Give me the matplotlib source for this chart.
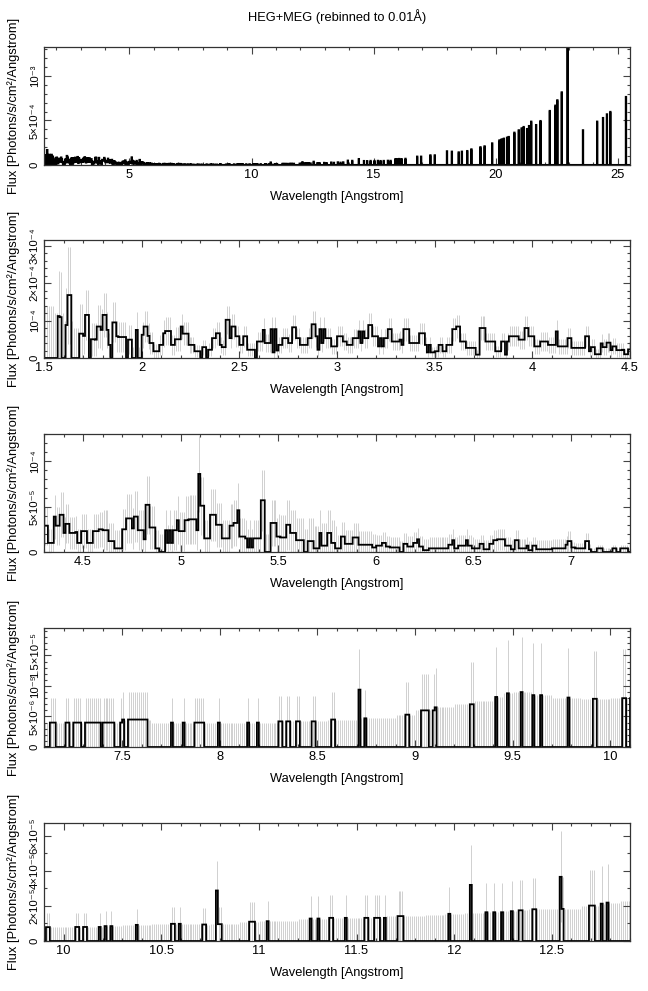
#!/usr/bin/env python3

# HEG+MEG flux spectrum, full range plus four 3 Angstrom zooms.

import numpy as np
import matplotlib
matplotlib.use("Agg")
from matplotlib import pyplot as plt
from matplotlib.ticker import MultipleLocator, FormatStrFormatter

plt.rcParams['font.family'] = ['Liberation Sans', 'DejaVu Sans']

# 1.5 - 7.1 A: start of each flat step and its flux [1e-6 ph/s/cm2/A]
dense_start = [
    1.50, 1.57, 1.58, 1.59, 1.61, 1.62, 1.64, 1.68, 1.70, 1.71, 1.73, 1.74, 1.76, 1.77,
    1.79, 1.80, 1.82, 1.83, 1.84, 1.85, 1.87, 1.88, 1.92, 1.93, 1.95, 1.97, 1.98, 2.00,
    2.01, 2.03, 2.04, 2.06, 2.09, 2.11, 2.12, 2.15, 2.17, 2.20, 2.21, 2.24, 2.27, 2.30,
    2.31, 2.33, 2.34, 2.36, 2.38, 2.40, 2.41, 2.43, 2.45, 2.46, 2.48, 2.50, 2.52, 2.54,
    2.58, 2.59, 2.62, 2.63, 2.66, 2.67, 2.68, 2.69, 2.70, 2.72, 2.75, 2.77, 2.79, 2.81,
    2.85, 2.87, 2.89, 2.90, 2.91, 2.92, 2.93, 2.94, 2.97, 3.00, 3.03, 3.05, 3.08, 3.11,
    3.12, 3.13, 3.14, 3.16, 3.18, 3.21, 3.22, 3.23, 3.24, 3.26, 3.28, 3.32, 3.33, 3.34,
    3.37, 3.42, 3.45, 3.46, 3.47, 3.48, 3.50, 3.52, 3.54, 3.56, 3.59, 3.61, 3.63, 3.66,
    3.71, 3.73, 3.76, 3.81, 3.84, 3.86, 3.87, 3.88, 3.93, 3.96, 3.98, 4.01, 4.04, 4.08,
    4.12, 4.13, 4.18, 4.20, 4.27, 4.29,
    4.30, 4.32, 4.35, 4.36, 4.38, 4.40, 4.41, 4.43, 4.46, 4.47, 4.49, 4.52, 4.55, 4.58,
    4.60, 4.63, 4.66, 4.70, 4.72, 4.75, 4.76, 4.78, 4.81, 4.82, 4.84, 4.87, 4.89, 4.92,
    4.93, 4.94, 4.95, 4.96, 4.98, 4.99, 5.02, 5.04, 5.08, 5.09, 5.10, 5.12, 5.15, 5.18,
    5.21, 5.25, 5.27, 5.29, 5.30, 5.33, 5.34, 5.35, 5.36, 5.37, 5.41, 5.43, 5.46, 5.49,
    5.51, 5.54, 5.56, 5.59, 5.63, 5.65, 5.68, 5.71, 5.72, 5.75, 5.77, 5.79, 5.82, 5.84,
    5.88, 5.91, 5.98, 6.00, 6.03, 6.05, 6.07, 6.12, 6.14, 6.16, 6.19, 6.21, 6.22, 6.24,
    6.27, 6.37, 6.39, 6.40, 6.42, 6.46, 6.47, 6.49, 6.53, 6.55, 6.58, 6.60, 6.62, 6.66,
    6.69, 6.71, 6.73, 6.77, 6.78, 6.80, 6.82, 6.90, 6.97, 6.98, 7.00, 7.02, 7.07, 7.09,
]
dense_flux = [
    0, 112, 109, 0, 88, 168, 0, 65, 59, 115, 0, 50, 49, 84,
    75, 115, 75, 35, 0, 95, 58, 56, 0, 49, 0, 75, 0, 62,
    84, 59, 40, 18, 35, 66, 72, 35, 50, 84, 65, 35, 18, 0,
    29, 0, 22, 53, 66, 35, 29, 102, 53, 84, 58, 35, 58, 22,
    0, 44, 75, 40, 77, 15, 77, 20, 35, 53, 40, 82, 53, 35,
    53, 90, 58, 22, 77, 40, 77, 53, 31, 58, 44, 35, 53, 71,
    40, 71, 53, 88, 58, 31, 53, 31, 53, 77, 44, 49, 35, 77,
    40, 66, 35, 15, 35, 15, 18, 35, 18, 35, 77, 84, 44, 27,
    9, 80, 44, 18, 44, 9, 44, 58, 49, 80, 58, 31, 44, 35,
    71, 31, 53, 27, 58, 18,
    29, 10, 39, 29, 41, 21, 31, 21, 22, 10, 23, 10, 23, 25,
    24, 12, 4, 25, 37, 26, 39, 24, 14, 52, 27, 4, 0, 24,
    10, 24, 10, 24, 35, 23, 35, 36, 24, 86, 51, 15, 41, 30,
    15, 29, 32, 46, 17, 15, 5, 15, 5, 15, 57, 0, 32, 17,
    16, 30, 21, 13, 0, 12, 4, 21, 7, 21, 10, 4, 17, 9,
    16, 8, 5, 7, 10, 6, 5, 0, 9, 6, 10, 14, 6, 2,
    4, 8, 13, 4, 7, 13, 7, 4, 9, 3, 9, 13, 14, 7,
    3, 13, 4, 7, 2, 7, 3, 4, 8, 12, 5, 4, 12, 3,
]

# 7.1 - 12.9 A: bins (0.01 A) holding counts, and the number of counts
count_wl = [
    7.13, 7.14, 7.15, 7.21, 7.22, 7.25, 7.26, 7.27, 7.28, 7.31, 7.32, 7.33,
    7.34, 7.35, 7.36, 7.37, 7.38, 7.40, 7.41, 7.42, 7.43, 7.44, 7.45, 7.49, 7.50,
    7.53, 7.54, 7.55, 7.56, 7.57, 7.58, 7.59, 7.60, 7.61, 7.62, 7.75, 7.81,
    7.87, 7.88, 7.89, 7.90, 7.91, 7.99, 8.14, 8.19, 8.30, 8.31, 8.34, 8.35,
    8.39, 8.40, 8.47, 8.48, 8.57, 8.58, 8.71, 8.74, 8.95, 8.96, 9.03, 9.04,
    9.05, 9.06, 9.09, 9.10, 9.28, 9.29, 9.41, 9.47, 9.54, 9.60, 9.64, 9.78,
    9.91, 9.92, 10.06, 10.07, 10.10, 10.11, 10.18, 10.21, 10.24, 10.37,
    10.55, 10.56, 10.59, 10.71, 10.72, 10.78, 10.79, 10.80, 10.95, 10.96, 10.97,
    11.04, 11.26, 11.30, 11.36, 11.37, 11.44, 11.54, 11.55, 11.59, 11.60, 11.61,
    11.64, 11.71, 11.72, 11.73, 11.97, 12.08, 12.16, 12.20, 12.24, 12.29,
    12.33, 12.34, 12.40, 12.41, 12.54, 12.55, 12.69, 12.70, 12.71, 12.75, 12.78,
]
count_n = [
    1, 1, 1, 1, 1, 1, 1, 1, 1, 1, 1, 1,
    1, 1, 1, 1, 1, 1, 1, 1, 1, 1, 1, 1, 1,
    1, 1, 1, 1, 1, 1, 1, 1, 1, 1, 1, 1,
    1, 1, 1, 1, 1, 1, 1, 1, 1, 1, 1, 1,
    1, 1, 1, 1, 1, 1, 2, 1, 1, 1, 1, 1,
    1, 1, 1, 1, 1, 1, 1, 1, 1, 1, 1, 1,
    1, 1, 1, 1, 1, 1, 1, 1, 1, 1,
    1, 1, 1, 1, 1, 3, 1, 1, 1, 1, 1,
    1, 1, 1, 1, 1, 1, 1, 1, 1, 1, 1,
    1, 1, 1, 1, 1, 2, 1, 1, 1, 1,
    1, 1, 1, 1, 2, 1, 1, 1, 1, 1, 1,
]

# flux of one count (also the error scale) [1e-6], valid from unit_wl on
unit_wl = [1.50, 1.55, 1.60, 1.65, 1.70, 1.80, 2.00, 2.20, 3.00, 4.00, 4.30, 4.60,
           5.00, 5.50, 5.80, 6.00, 6.50, 7.00,
           7.10, 7.50, 7.65, 8.30, 8.55, 8.70, 8.90, 9.00, 9.10, 9.20, 9.30, 9.40,
           9.45, 9.50, 9.60, 9.70, 9.85, 10.00, 10.20, 10.30, 10.45, 10.70, 10.75,
           10.90, 11.00, 11.20, 11.35, 11.65, 11.85, 11.95, 12.05, 12.15, 12.25,
           12.32, 12.38, 12.50, 12.65, 12.74, 12.77, 12.85, 12.90]
unit_val = [140, 120, 100, 80, 40, 30, 20, 14, 12, 14, 15, 20,
            20, 25, 15, 12, 10, 6,
            4.0, 4.5, 4.0, 4.2, 4.5, 4.7, 5.3, 6.0, 6.5, 7.0, 7.5, 8.2,
            8.8, 9.0, 8.5, 8.1, 7.9, 8.0, 8.5, 9.2, 9.8, 9.4, 9.6,
            11.0, 11.3, 12.8, 13.2, 14.2, 15.0, 15.5, 16.0, 16.4, 17.0,
            17.5, 18.1, 18.3, 20.2, 21.3, 21.9, 23.0, 0]

# 12.9 - 25.5 A: isolated bins seen in the top panel [1e-6]
line_wl = [12.97, 13.07, 13.26, 13.37, 13.53, 13.64, 13.75, 13.94, 14.12, 14.39,
           14.60, 14.73, 14.87, 15.03, 15.17, 15.28, 15.41, 15.58, 15.69,
           15.89, 15.97, 16.04, 16.14, 16.30, 16.78, 16.94, 17.32, 17.50,
           18.00, 18.20, 18.48, 18.61, 18.83, 19.00, 19.37, 19.54, 19.85,
           20.15, 20.24, 20.33, 20.46, 20.53, 20.76, 20.94, 21.06, 21.14,
           21.28, 21.36, 21.45, 21.65, 21.83, 22.21, 22.44, 22.52, 22.70,
           22.94, 23.57, 24.15, 24.39, 24.55, 24.69, 25.33]
line_flux = [24, 22, 28, 25, 30, 26, 30, 49, 47, 67,
             45, 44, 46, 45, 47, 45, 46, 48, 47,
             67, 66, 68, 67, 70, 94, 94, 109, 109,
             154, 150, 142, 150, 157, 176, 200, 210, 243,
             277, 288, 296, 307, 315, 363, 390, 412, 427,
             404, 438, 487, 449, 494, 607, 667, 727, 816,
             1400, 390, 487, 528, 569, 596, 764]

panel_xlim = [(1.5, 25.5), (1.5, 4.5), (4.3, 7.3), (7.1, 10.1), (9.9, 12.9)]
panel_ytop = [1.325e-3, 3.15e-4, 1.3e-4, 1.95e-5, 6.73e-5]
panel_yticks = [[0, 5e-4, 1e-3],
                [0, 1e-4, 2e-4, 3e-4],
                [0, 5e-5, 1e-4],
                [0, 5e-6, 1e-5, 1.5e-5],
                [0, 2e-5, 4e-5, 6e-5]]
panel_ylabels = [["0", "5×10⁻⁴", "10⁻³"],
                 ["0", "10⁻⁴", "2×10⁻⁴", "3×10⁻⁴"],
                 ["0", "5×10⁻⁵", "10⁻⁴"],
                 ["0", "5×10⁻⁶", "10⁻⁵", "1.5×10⁻⁵"],
                 ["0", "2×10⁻⁵", "4×10⁻⁵", "6×10⁻⁵"]]
panel_yminor = [1e-4, 2e-5, 1e-5, 1e-6, 1e-5]
panel_xmajor = [5, 0.5, 0.5, 0.5, 0.5]
panel_xminor = [1, 0.1, 0.1, 0.1, 0.1]

# pixel rows of each panel (top, bottom) in the 648x991 picture
panel_rows = [(47, 165), (240, 358), (434, 552), (628, 747), (823, 941)]


# ---- build the 0.01 A spectrum -------------------------------------------
nbin = 2400
edges = np.round(1.5 + 0.01 * np.arange(nbin + 1), 2)
lo_edge = edges[:-1]
centres = lo_edge + 0.005

flux = np.zeros(nbin)
dense = lo_edge < 7.1 - 1e-6
idx = np.searchsorted(dense_start, lo_edge + 1e-6, side="right") - 1
flux[dense] = np.asarray(dense_flux, float)[idx[dense]]

uidx = np.searchsorted(unit_wl, lo_edge + 1e-6, side="right") - 1
unit = np.asarray(unit_val, float)[uidx]

for wl, n in zip(count_wl, count_n):
    i = int(round((wl - 1.5) / 0.01))
    flux[i] = n * unit[i]
for wl, f in zip(line_wl, line_flux):
    i = int(round((wl - 1.5) / 0.01))
    flux[i] = f

err = np.sqrt(np.maximum(flux, unit) * unit)
err_lo = np.maximum(flux - err, 0) * 1e-6
err_hi = (flux + err) * 1e-6
flux = flux * 1e-6


# ---- plot -----------------------------------------------------------------
W, H = 648, 991
fs = 9.3
fig = plt.figure(figsize=(W / 100, H / 100), dpi=100)
left, right = 44 / W, 630 / W

for k in range(5):
    top, bot = panel_rows[k]
    ax = fig.add_axes([left, 1 - bot / H, right - left, (bot - top) / H])
    x0, x1 = panel_xlim[k]

    if k > 0:
        sel = (centres > x0 - 0.01) & (centres < x1 + 0.01) & (unit > 0)
        ax.vlines(centres[sel], err_lo[sel], err_hi[sel], color="#d0d0d0",
                  lw=0.7, zorder=1)
        lw = 1.3
    else:
        lw = 1.5
    ax.stairs(flux, edges, color="k", lw=lw, zorder=2)

    ax.set_xlim(x0, x1)
    ax.set_ylim(0, panel_ytop[k])
    ax.xaxis.set_major_locator(MultipleLocator(panel_xmajor[k]))
    ax.xaxis.set_minor_locator(MultipleLocator(panel_xminor[k]))
    ax.xaxis.set_major_formatter(FormatStrFormatter("%g"))
    ax.set_yticks(panel_yticks[k])
    ax.set_yticklabels(panel_ylabels[k], rotation=90, va="center", fontsize=8.2)
    ax.yaxis.set_minor_locator(MultipleLocator(panel_yminor[k]))

    ax.tick_params(which="both", direction="in", top=True, right=True,
                   color="#444444", width=0.8)
    ax.tick_params(axis="x", labelsize=fs)
    ax.tick_params(which="major", length=5, pad=3)
    ax.tick_params(which="minor", length=2.5)
    for s in ax.spines.values():
        s.set_linewidth(0.9)
        s.set_color("#333333")

    ax.set_xlabel("Wavelength [Angstrom]", fontsize=fs, labelpad=7)
    ax.set_ylabel("Flux [Photons/s/cm²/Angstrom]", fontsize=fs)
    ax.yaxis.set_label_coords(-0.041, 0.5)

fig.text((left + right) / 2, 1 - 17 / H, "HEG+MEG (rebinned to 0.01Å)",
         ha="center", va="center", fontsize=fs)

plt.savefig("out.png", dpi=100)
plt.close()
print("Saved out.png")
